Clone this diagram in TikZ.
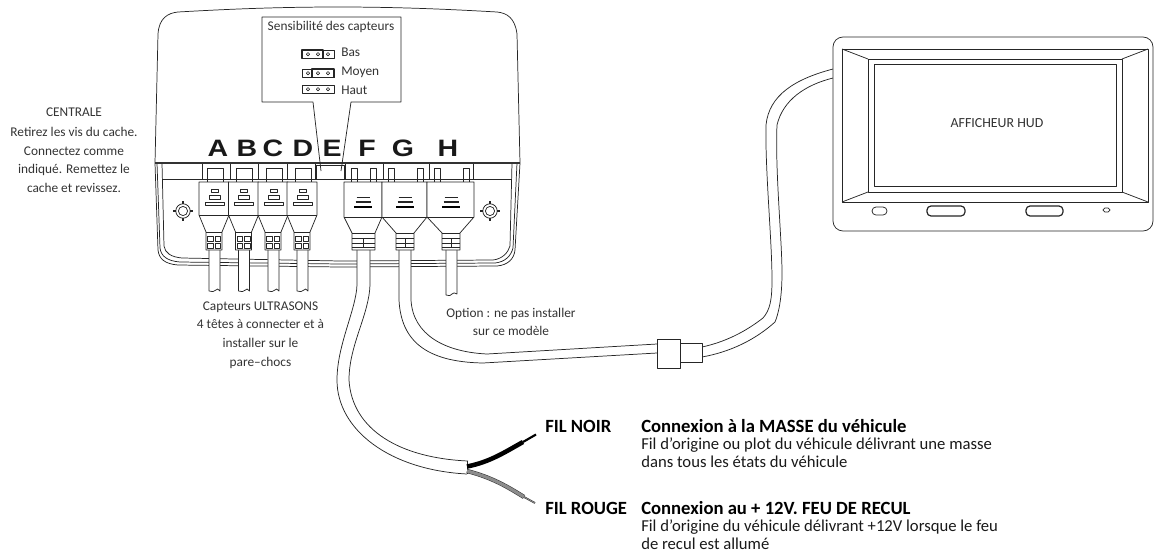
\documentclass[tikz,border=0pt]{standalone}
\usepackage{fontspec}
\setmainfont{Carlito}
\newfontfamily\letterfont[FakeStretch=1.2]{Liberation Sans}
\tikzset{
  every picture/.style={line join=round},
  ln/.style={draw=black!85,line width=0.55pt},
  heavy/.style={draw=black!80,line width=1.1pt},
  body/.style={ln,fill=white},
  txt/.style={inner sep=0pt,text=black!80,font=\fontsize{10pt}{11pt}\selectfont,align=center},
  ltxt/.style={inner sep=0pt,text=black!90,font=\fontsize{12.5pt}{13.5pt}\selectfont,align=left,anchor=north west},
  btxt/.style={inner sep=0pt,text=black,font=\fontsize{14pt}{14pt}\selectfont\bfseries,anchor=west},
  letter/.style={inner sep=0pt,text=black!90,font=\letterfont\fontsize{17.8pt}{18pt}\selectfont\bfseries,anchor=center},
  cablefill/.style={fill=white,draw=none}
}
\newcommand{\smallplug}[1]{%
  \begin{scope}[shift={(#1,0)}]
  \draw[ln] (8,182)--(8,168)--(24,168)--(24,182);
  \draw[ln,fill=white] (10,250)--(10,291) .. controls (13,292) and (15,292) .. (17,290) .. controls (18,288) and (19,289) .. (21,291)--(21,250);
  \draw[body] (0,182)--(0,215)--(7,232)--(7,250)--(23,250)--(23,232)--(30,215)--(30,182)--cycle;
  \draw[ln] (0,215)--(30,215);
  \draw[ln] (7,232)--(23,232);
  \draw[ln] (8.5,236) rectangle (14,241) (16,236) rectangle (21.5,241) (8.5,243) rectangle (14,248) (16,243) rectangle (21.5,248);
  \draw[ln] (12,189) rectangle (19,192);
  \draw[ln] (10,195) rectangle (21,199);
  \draw[ln] (6,202) rectangle (25,205);
  \end{scope}}
\newcommand{\bigplug}[7]{% left, right, grip left, grip right, slot a, slot b, centre
  \draw[ln] (#5,182)--(#5,168)--(#5+6,168)--(#5+6,182);
  \draw[ln] (#6,182)--(#6,168)--(#6+6,168)--(#6+6,182);
  \draw[body] (#1,182)--(#1,217)--(#3,233)--(#3,250)--(#4,250)--(#4,233)--(#2,217)--(#2,182)--cycle;
  \draw[ln] (#1,217)--(#2,217) (#3,233)--(#4,233);
  \draw[ln] (#3,238)--(#4,238) (#3,243)--(#4,243) (#3,247)--(#4,247) (#7,238)--(#7,247);
  \draw[ln] (#7-6.5,197)--(#7+6.5,197);
  \draw[line width=0.8pt,black!85] (#7-7.5,202)--(#7+7.5,202);
  \draw[line width=1.1pt,black] (#7-9,207)--(#7+9,207);
}
\newcommand{\screw}[2]{%
  \begin{scope}[shift={(#1,#2)}]
  \draw[ln] (0,0) circle (7.2) (0,0) circle (4.6);
  \draw[ln,line width=1pt] (-10,0)--(-7.2,0) (7.2,0)--(10,0) (0,-10)--(0,-7.2) (0,7.2)--(0,10);
  \end{scope}}
\newcommand{\jumper}[3]{%
  \begin{scope}[shift={(#1,#2)}]
  \draw[ln] (0,0) rectangle (32,8.5);
  \foreach \i in {6,16,26} \draw[ln,line width=0.45pt] (\i,4.2) circle (1.7);
  #3
  \end{scope}}
\begin{document}
\begin{tikzpicture}[x=0.75pt,y=-0.75pt]
\useasboundingbox (0,0) rectangle (1154,554);
% housing
\draw[ln] (155,163) -- (158,34) .. controls (159,18) and (168,13) .. (178,12) .. controls (230,9) and (280,7) .. (338,7) .. controls (395,7) and (445,9) .. (497,12) .. controls (507,13) and (515,18) .. (517,34) -- (520,163);
\draw[ln] (155,163) -- (158,250) .. controls (159,259) and (165,264) .. (178,265) -- (340,267) -- (497,266) .. controls (508,265) and (514,259) .. (515,250) -- (520,163);
\draw[ln] (157,163) -- (160,248) .. controls (161,256) and (167,261) .. (180,262) -- (340,264) -- (495,263) .. controls (505,262) and (511,256) .. (513,248) -- (517,163);
\draw[ln] (162,163) -- (164,246) .. controls (165,253) and (171,257) .. (182,258) -- (340,261) -- (493,260) .. controls (502,259) and (508,253) .. (510,246) -- (512,163);
\draw[ln] (162,179) -- (512,179);
\foreach \x in {202,230,258,287,315,345,383,429,473} \draw[ln] (\x,163) -- (\x,180);
\screw{183}{211}
\screw{490}{211}
% cables
\path[cablefill] (357,250) -- (357,285) .. controls (356,310) and (337,345) .. (337,380) .. controls (337,430) and (390,470) .. (467,474) -- (468,461) .. controls (400,458) and (352,430) .. (349,380) .. controls (349,345) and (369,315) .. (370,285) -- (370,250) -- cycle;
\path[cablefill] (399,250) -- (399,300) .. controls (401,340) and (425,362) .. (483,363) -- (657,353) -- (657,344) -- (487,354) .. controls (445,352) and (413,335) .. (411,300) -- (411,250) -- cycle;
\draw[ln] (357,250) -- (357,285) .. controls (356,310) and (337,345) .. (337,380) .. controls (337,430) and (390,470) .. (467,474);
\draw[ln] (370,250) -- (370,285) .. controls (369,315) and (349,345) .. (349,380) .. controls (352,430) and (400,458) .. (468,461);
\draw[ln] (467,461) -- (467,474);
\draw[ln] (399,250) -- (399,300) .. controls (401,340) and (425,362) .. (483,363) -- (657,353);
\draw[ln] (411,250) -- (411,300) .. controls (413,335) and (445,352) .. (487,354) -- (657,344);
% option cable
\draw[body] (446,250) -- (446,295) .. controls (449,296) and (451,296) .. (452,294) .. controls (453,292) and (455,293) .. (457,294) -- (457,250);
% small plugs
\smallplug{199}
\smallplug{228.5}
\smallplug{258}
\smallplug{287}
\bigplug{344}{382}{352}{375}{351}{370}{363}
\bigplug{382}{427}{396}{414}{388}{417}{405}
\bigplug{427}{474}{442}{460}{434}{463}{451}
% callout
\fill[white] (263,18) -- (400,18) -- (400,101) -- (351,101) -- (341.5,172) -- (320.5,172) -- (313,101) -- (263,101) -- cycle;
\draw[ln] (316,165) rectangle (344,179);
\draw[heavy] (155,163) -- (520,163);
\draw[ln] (313,102) -- (262,102) -- (262,17) -- (401,17) -- (401,102) -- (351,102) -- (341,171);
\draw[ln] (313,102) -- (321,171);
\node[letter] (la) at (218,148) {A};
\node[letter] (lb) at (247,148) {B};
\node[letter] (lc) at (273,148) {C};
\node[letter] (ld) at (303,148) {D};
\node[letter] (le) at (332,148) {E};
\node[letter] (lf) at (367,148) {F};
\node[letter] (lg) at (403,148) {G};
\node[letter] (lh) at (448,148) {H};
\node[txt] (sens) at (331,27) {Sensibilité des capteurs};
\jumper{302}{50}{\draw[ln,line width=1.1pt] (0,0) rectangle (21,8.5);}
\jumper{302}{69}{\draw[ln,line width=1.1pt] (10,0) rectangle (32,8.5);}
\jumper{302}{85}{}
\node[txt,anchor=west] (bas) at (341,52) {Bas};
\node[txt,anchor=west] (moyen) at (341,72) {Moyen};
\node[txt,anchor=west] (haut) at (341,90) {Haut};
% coupler and display cable
\draw[ln,fill=white] (833,69) .. controls (795,79) and (769,95) .. (766,125) .. controls (765,170) and (772,240) .. (772,280) .. controls (772,300) and (770,310) .. (763,318) .. controls (745,332) and (725,342) .. (702,347) -- (702,357) .. controls (730,352) and (755,340) .. (775,322) .. controls (778,315) and (782,300) .. (782,273) .. controls (782,240) and (775,170) .. (777,125) .. controls (783,100) and (805,85) .. (833,78);
\draw[body] (680,343) rectangle (702,362);
\draw[body] (657,339) rectangle (680,368);
% display
\draw[body,rounded corners=7.5pt] (833,37) rectangle (1153,231);
\draw[ln] (842,49) rectangle (1148,202);
\draw[ln] (868,59) rectangle (1122,192);
\draw[ln] (874,64) rectangle (1116,186);
\draw[ln] (842,49) -- (868,59) (1148,49) -- (1122,59) (842,202) -- (868,192) (1148,202) -- (1122,192);
\draw[ln,rounded corners=3pt] (872,207) rectangle (887,215);
\draw[ln,rounded corners=3pt,line width=0.9pt] (927,206) rectangle (965,216);
\draw[ln,rounded corners=3pt,line width=0.9pt] (1026,206) rectangle (1063,216);
\draw[ln,rounded corners=1.4pt] (1103,208) rectangle (1110,212);
\node[txt,font=\fontsize{10.4pt}{11pt}\selectfont] (hud) at (997,123) {AFFICHEUR HUD};
% wires
\draw[black,line width=3.4pt] (467,466.5) .. controls (490,462) and (505,452) .. (523,442);
\draw[black,line width=1.6pt] (523,442) -- (536,434.5);
\draw[black!80,line width=3.2pt] (467,471) .. controls (490,477) and (505,485) .. (524,497);
\draw[black!45,line width=2.4pt] (467,471) .. controls (490,477) and (505,485) .. (524,497);
\draw[black!80,line width=1.3pt] (524,497) -- (535,503);
\draw[black!45,line width=0.6pt] (524,497) -- (535,503);
% texts
\node[txt] (c0) at (74,112) {CENTRALE};
\node[txt] (c1) at (74,132) {Retirez les vis du cache.};
\node[txt] (c2) at (74,151) {Connectez comme};
\node[txt] (c3) at (74,170) {indiqué. Remettez le};
\node[txt] (c4) at (74,188) {cache et revissez.};
\node[txt] (cap) at (260.5,335) {Capteurs ULTRASONS\\[3pt]4 têtes à connecter et à\\[3pt]installer sur le\\[3pt]pare--chocs};
\node[txt] (opt) at (511,322) {Option : ne pas installer\\[3pt]sur ce modèle};
\node[btxt] (noir) at (545,426) {FIL NOIR};
\node[btxt] (rouge) at (545,508) {FIL ROUGE};
\node[btxt] (t1) at (641,426) {Connexion à la MASSE du véhicule};
\node[ltxt] (t2) at (641,437) {Fil d'origine ou plot du véhicule délivrant une masse\\dans tous les états du véhicule};
\node[btxt] (t3) at (641,508) {Connexion au + 12V. FEU DE RECUL};
\node[ltxt] (t4) at (641,519) {Fil d'origine du véhicule délivrant +12V lorsque le feu\\de recul est allumé};
\end{tikzpicture}
\end{document}
